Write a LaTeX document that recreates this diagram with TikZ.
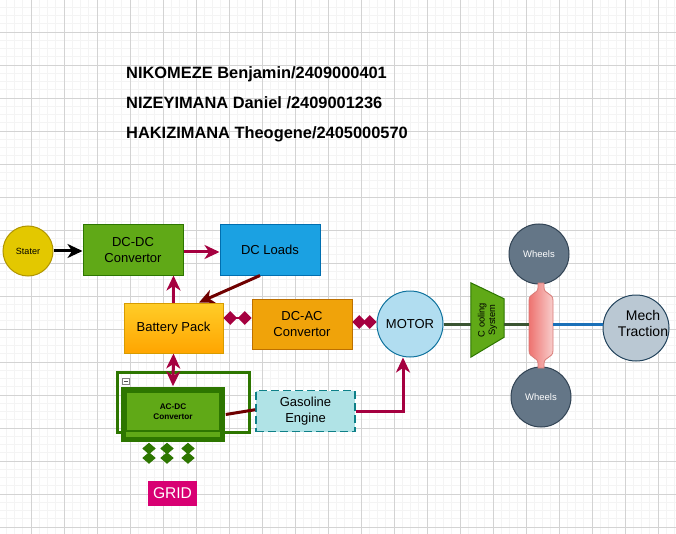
\documentclass[tikz,border=0pt]{standalone}
\usepackage{fontspec}
\setmainfont{Liberation Sans}
\usetikzlibrary{arrows.meta,positioning}
\definecolor{stfill}{HTML}{E3C800}
\definecolor{stdraw}{HTML}{B09500}
\definecolor{grfill}{HTML}{60A917}
\definecolor{grdraw}{HTML}{2D7600}
\definecolor{blfill}{HTML}{1BA1E2}
\definecolor{bldraw}{HTML}{006EAF}
\definecolor{battop}{HTML}{FFCD28}
\definecolor{batbot}{HTML}{FFA500}
\definecolor{batdraw}{HTML}{D79B00}
\definecolor{acfill}{HTML}{F0A30A}
\definecolor{acdraw}{HTML}{BD7000}
\definecolor{mofill}{HTML}{B1DDF0}
\definecolor{modraw}{HTML}{10739E}
\definecolor{gafill}{HTML}{B0E3E6}
\definecolor{gadraw}{HTML}{0E8088}
\definecolor{whfill}{HTML}{647687}
\definecolor{whdraw}{HTML}{314354}
\definecolor{mefill}{HTML}{BAC8D3}
\definecolor{medraw}{HTML}{23445D}
\definecolor{crim}{HTML}{A50040}
\definecolor{dred}{HTML}{6F0000}
\definecolor{gridfill}{HTML}{D80073}
\definecolor{shline}{HTML}{3A5431}
\definecolor{mcline}{HTML}{1A70B8}
\definecolor{shleft}{HTML}{EE7370}
\definecolor{shright}{HTML}{F8CECC}
\definecolor{shdraw}{HTML}{D87A76}
\definecolor{gmincol}{HTML}{F4F4F4}
\definecolor{gmajcol}{HTML}{D3D3D3}
\tikzset{
    %Define standard arrow tip
    >={Stealth[length=15pt,width=14pt,inset=4.5pt]},
    %Define style for boxes
    box/.style={
           rectangle,
           draw, line width=1pt,
           minimum width=100pt,
           minimum height=50pt,
           align=center,
           font=\fontsize{13}{15.6}\selectfont},
    % Define arrow style
    arr/.style={
           ->,
           line width=3pt,
           draw=crim},
    % Define diamond connector style
    dia/.style={
           {Diamond[length=13.5pt,width=14pt]}-{Diamond[length=13.5pt,width=14pt]},
           line width=2pt,
           draw=crim}
}
\begin{document}
\begin{tikzpicture}[x=1pt, y=-1pt,
rnd/.style={circle, draw, line width=1pt, minimum size=66pt, inner sep=0pt, align=center},
whl/.style={circle, fill=whfill, draw=whdraw, line width=1pt, minimum size=60pt, inner sep=0pt, text=white, font=\fontsize{9.5}{11}\selectfont},
gdia/.style={{Diamond[length=11.5pt,width=13.5pt]}-{Diamond[length=11.5pt,width=13.5pt]}, line width=2pt, draw=grdraw},
ttl/.style={anchor=base west, inner sep=0pt, font=\bfseries\fontsize{16.4}{19}\selectfont}
]
\useasboundingbox (0,0) rectangle (676,534);
\fill[white] (0,0) rectangle (676,534);
%Grid
\foreach \gx in {0,...,82} \draw[gmincol, line width=0.8pt] ({-2+8.25*\gx},0) -- ({-2+8.25*\gx},534);
\foreach \gy in {0,...,65} \draw[gmincol, line width=0.8pt] (0,{-1+8.25*\gy}) -- (676,{-1+8.25*\gy});
\foreach \gx in {1,...,20} \draw[gmajcol, line width=0.8pt] ({-2+33*\gx},0) -- ({-2+33*\gx},534);
\foreach \gy in {1,...,16} \draw[gmajcol, line width=0.8pt] (0,{-1+33*\gy}) -- (676,{-1+33*\gy});
%Names
\node[ttl] (name1) at (126,78.7) {NIKOMEZE Benjamin/2409000401};
\node[ttl] (name2) at (126,108.5) {NIZEYIMANA Daniel /2409001236};
\node[ttl] (name3) at (126,138.7) {HAKIZIMANA Theogene/2405000570};
%Nodes
\node[circle, fill=stfill, draw=stdraw, line width=1pt, minimum size=50pt, inner sep=0pt,
      font=\fontsize{9}{11}\selectfont] (stater) at (28,251) {Stater};
\node[box, fill=grfill, draw=grdraw] (dcdc) at (133,250) {DC-DC\\Convertor};
\node[box, fill=blfill, draw=bldraw] (dcload) [right=36pt of dcdc] {DC Loads};
\node[box, top color=battop, bottom color=batbot, draw=batdraw, minimum width=99pt] (battery) at (173.5,328) {Battery Pack};
\node[box, fill=acfill, draw=acdraw] (dcac) at (302,324) {DC-AC\\Convertor};
\node[rnd, fill=mofill, draw=modraw, font=\fontsize{13}{15.6}\selectfont] (motor) at (410,324) {MOTOR};
\node[box, fill=gafill, draw=gadraw, dashed, dash pattern=on 8pt off 4pt, line width=1.5pt,
      minimum width=99pt, minimum height=41pt] (gas) at (305.5,411.2) {Gasoline\\Engine};
% AC-DC group
\draw[grdraw, line width=3pt] (117,372) rectangle (249,432);
\draw[gray, fill=white, line width=0.6pt] (122.5,378) rectangle (129.5,384);
\draw[black!70, line width=1pt] (124,381) -- (128,381);
\fill[grdraw] (121,387) rectangle (225,442);
\fill[grfill] (126,431) rectangle (220,437);
\node[rectangle, fill=grfill, draw=grdraw, line width=1.5pt, minimum width=94pt, minimum height=39pt,
      align=center, font=\bfseries\fontsize{8.2}{10}\selectfont] (acdc) at (173,411.5) {AC-DC\\Convertor};
\node[rectangle, fill=gridfill, minimum width=49pt, minimum height=25pt, text=white,
      font=\fontsize{15.6}{18}\selectfont] (grid) at (172.5,493.5) {GRID};
% Drive side
\node[minimum width=33pt, minimum height=74pt, inner sep=0pt] (cool) at (487.5,320) {};
\draw[fill=grfill, draw=grdraw, line width=1pt] (cool.north west) -- ([yshift=-16pt]cool.north east)
     -- ([yshift=20pt]cool.south east) -- (cool.south west) -- cycle;
\node[rotate=90, align=center, font=\fontsize{9.3}{10.5}\selectfont] at (cool) {C ooling\\System};
\node[whl] (wheel1) at (539,254) {Wheels};
\node[whl] (wheel2) at (541,397) {Wheels};
\node[minimum width=24pt, minimum height=85pt, inner sep=0pt] (shaft) at (541,325.5) {};
\begin{scope}[shift={(shaft.center)}]
\draw[left color=shleft, right color=shright, draw=shdraw, line width=0.8pt]
     (-3,-42.5) -- (-3,-38) .. controls (-3,-31) and (-12,-33) .. (-12,-25) -- (-12,25)
     .. controls (-12,33) and (-3,31) .. (-3,38) -- (-3,42.5) -- (3,42.5) -- (3,38)
     .. controls (3,31) and (12,33) .. (12,25) -- (12,-25)
     .. controls (12,-33) and (3,-31) .. (3,-38) -- (3,-42.5) -- cycle;
\end{scope}
\node[rnd, fill=mefill, draw=medraw,
      label={[xshift=7pt, yshift=5pt, align=center, font=\fontsize{14}{16}\selectfont]center:Mech\\Traction}] (mech) at (636,328) {};
%Connectors
\draw[->, line width=3pt] (stater.east) -- (stater.east -| dcdc.west);
\draw[arr] ([yshift=-2pt]dcdc.east) -- ([yshift=-2pt]dcload.west);
\draw[arr] (battery.north) -- (battery.north |- dcdc.south);
\draw[arr, draw=dred] ([xshift=-10pt]dcload.south) -- ([xshift=25.5pt]battery.north);
\draw[dia] ([yshift=10pt]battery.east) -- ([yshift=10pt]battery.east -| dcac.west);
\draw[dia] ([yshift=2pt]dcac.east) -- ([yshift=2pt]dcac.east -| motor.west);
\draw[arr, <->] (battery.south) -- ([yshift=5pt]acdc.north);
\draw[dred, line width=3pt] ([xshift=5pt, yshift=-3pt]acdc.east) -- ([yshift=1.5pt]gas.west);
\draw[arr] (gas.east) -| ([xshift=-7pt]motor.south);
\foreach \dx in {-24,-6,15} \draw[gdia] ([xshift=\dx pt, yshift=-11pt]acdc.south) -- ++(0,21);
\draw[shline, line width=3pt] (motor.east) -- (motor.east -| cool.west);
\draw[shline, line width=3pt] (motor.east -| cool.east) -- (motor.east -| shaft.west);
\draw[mcline, line width=3pt] (motor.east -| shaft.east) -- (motor.east -| mech.west);
\end{tikzpicture}
\end{document}
